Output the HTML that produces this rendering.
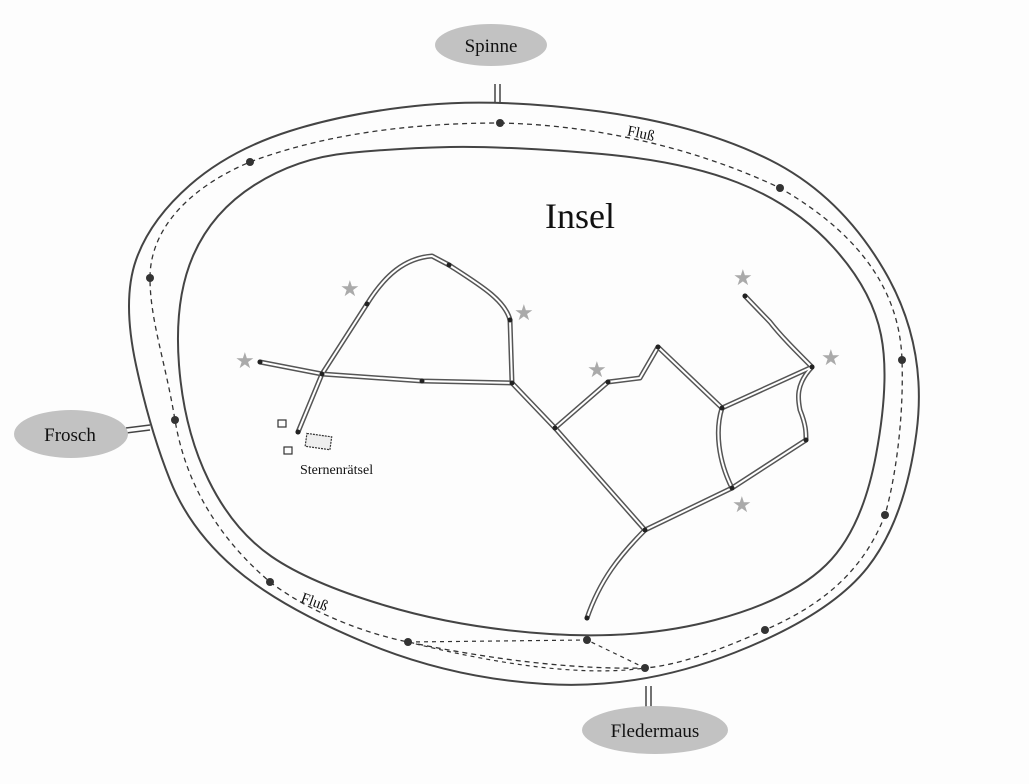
<!DOCTYPE html>
<html><head><meta charset="utf-8"><style>
html,body{margin:0;padding:0;background:#fff;}
svg{display:block;}
text{font-family:"Liberation Serif",serif;fill:#111;}
</style></head><body>
<svg width="1029" height="784" viewBox="0 0 1029 784" xmlns="http://www.w3.org/2000/svg">
<rect width="1029" height="784" fill="#fdfdfd"/>
<!-- outer border -->
<path d="M425,105 Q500,98 600,111.5 Q700,125 770,160 Q840,195 884,270 Q928,345 916.5,432.5 Q905,520 867.5,567.5 Q830,615 735,652.5 Q640,690 545,684 Q450,678 365,642.5 Q280,607 235,568.5 Q190,530 170,480 Q150,430 136,365 Q122,300 136,260 Q150,220 190,185 Q230,150 290,131 Q350,112 425,105 Z" fill="none" stroke="#444" stroke-width="2"/>
<!-- inner border -->
<path d="M450,147 Q500,146 590,153 Q680,160 737.5,182.5 Q795,205 833.5,247.5 Q872,290 881,335 Q890,380 876,455 Q862,530 826,565 Q790,600 715,620 Q640,640 550,634 Q460,628 385,605.5 Q310,583 271.5,556.5 Q233,530 208.5,480 Q184,430 179,365 Q174,300 193,256 Q212,212 254.5,185 Q297,158 348.5,153 Q400,148 450,147 Z" fill="none" stroke="#444" stroke-width="2"/>
<!-- river dashed -->
<path d="M500,123 C600,125 700,150 780,188 C870,240 900,300 902,360 C904,420 895,480 885,515 C860,580 810,610 765,630 C720,650 680,665 645,668 C560,670 470,655 408,642 C350,630 300,605 270,582 C215,535 185,480 175,420 C165,360 150,320 150,278 C150,225 195,185 250,162 C330,132 420,123 500,123 Z" fill="none" stroke="#333" stroke-width="1.3" stroke-dasharray="5,4"/>
<path d="M408,642 L587,640 L645,668 M408,642 Q560,680 645,668" fill="none" stroke="#333" stroke-width="1.2" stroke-dasharray="4,4"/>
<g fill="#333">
<circle cx="500" cy="123" r="4"/><circle cx="780" cy="188" r="4"/><circle cx="902" cy="360" r="4"/><circle cx="885" cy="515" r="4"/><circle cx="765" cy="630" r="4"/><circle cx="645" cy="668" r="4"/><circle cx="587" cy="640" r="4"/><circle cx="408" cy="642" r="4"/><circle cx="270" cy="582" r="4"/><circle cx="175" cy="420" r="4"/><circle cx="150" cy="278" r="4"/><circle cx="250" cy="162" r="4"/>
</g>
<!-- roads -->
<g fill="none" stroke-linecap="round" stroke-linejoin="round">
<g stroke="#555" stroke-width="5">
<path d="M260,362 L322,374 L367,304 C385,275 405,258 432,256 L449,265 C480,285 505,300 510,320 L512,383"/>
<path d="M322,374 L422,381 L512,383 L555,428 L608,382 L640,378 L658,347 L722,408 L812,367"/>
<path d="M322,374 L298,432"/>
<path d="M745,296 L770,322 C780,335 795,350 812,367 C795,385 798,400 800,410 C806,425 806,432 806,440 L732,488"/>
<path d="M722,408 C715,430 718,460 732,488 L645,530 L555,428"/>
<path d="M645,530 C620,555 600,580 587,618"/>
</g>
<g stroke="#fff" stroke-width="2">
<path d="M260,362 L322,374 L367,304 C385,275 405,258 432,256 L449,265 C480,285 505,300 510,320 L512,383"/>
<path d="M322,374 L422,381 L512,383 L555,428 L608,382 L640,378 L658,347 L722,408 L812,367"/>
<path d="M322,374 L298,432"/>
<path d="M745,296 L770,322 C780,335 795,350 812,367 C795,385 798,400 800,410 C806,425 806,432 806,440 L732,488"/>
<path d="M722,408 C715,430 718,460 732,488 L645,530 L555,428"/>
<path d="M645,530 C620,555 600,580 587,618"/>
</g>
</g>
<g fill="#222">
<circle cx="260" cy="362" r="2.5"/><circle cx="322" cy="374" r="2.5"/><circle cx="367" cy="304" r="2.5"/><circle cx="449" cy="265" r="2.5"/><circle cx="510" cy="320" r="2.5"/><circle cx="512" cy="383" r="2.5"/><circle cx="422" cy="381" r="2.5"/><circle cx="298" cy="432" r="2.5"/><circle cx="555" cy="428" r="2.5"/><circle cx="608" cy="382" r="2.5"/><circle cx="658" cy="347" r="2.5"/><circle cx="722" cy="408" r="2.5"/><circle cx="812" cy="367" r="2.5"/><circle cx="745" cy="296" r="2.5"/><circle cx="806" cy="440" r="2.5"/><circle cx="732" cy="488" r="2.5"/><circle cx="645" cy="530" r="2.5"/><circle cx="587" cy="618" r="2.5"/>
</g>
<!-- stars -->
<g font-size="22">
<text x="235" y="368" style="fill:#aaa">★</text>
<text x="340" y="296" style="fill:#aaa">★</text>
<text x="514" y="320" style="fill:#aaa">★</text>
<text x="587" y="377" style="fill:#aaa">★</text>
<text x="733" y="285" style="fill:#aaa">★</text>
<text x="821" y="365" style="fill:#aaa">★</text>
<text x="732" y="512" style="fill:#aaa">★</text>
</g>
<!-- puzzle boxes -->
<rect x="278" y="420" width="8" height="7" fill="none" stroke="#333" stroke-width="1.2"/>
<rect x="284" y="447" width="8" height="7" fill="none" stroke="#333" stroke-width="1.2"/>
<rect x="306" y="435" width="25" height="13" fill="#eee" stroke="#333" stroke-width="1.2" stroke-dasharray="2,1" transform="rotate(8 318 441)"/>
<text x="300" y="474" font-size="14">Sternenrätsel</text>
<!-- labels -->
<text x="545" y="228" font-size="36">Insel</text>
<text x="627" y="139" font-size="15" transform="rotate(12 645 135)">Fluß</text>
<text x="300" y="608" font-size="15" transform="rotate(20 318 605)">Fluß</text>
<!-- connectors -->
<g stroke="#444" stroke-width="1.5">
<line x1="495" y1="84" x2="495" y2="103"/><line x1="500" y1="84" x2="500" y2="103"/>
<line x1="126" y1="428" x2="150" y2="425"/><line x1="126" y1="433" x2="150" y2="430"/>
<line x1="646" y1="686" x2="646" y2="707"/><line x1="651" y1="686" x2="651" y2="707"/>
</g>
<ellipse cx="491" cy="45" rx="56" ry="21" fill="#c2c2c2"/>
<text x="491" y="52" font-size="19" text-anchor="middle">Spinne</text>
<ellipse cx="71" cy="434" rx="57" ry="24" fill="#c2c2c2"/>
<text x="70" y="441" font-size="19" text-anchor="middle">Frosch</text>
<ellipse cx="655" cy="730" rx="73" ry="24" fill="#c2c2c2"/>
<text x="655" y="737" font-size="19" text-anchor="middle">Fledermaus</text>
</svg>
</body></html>
